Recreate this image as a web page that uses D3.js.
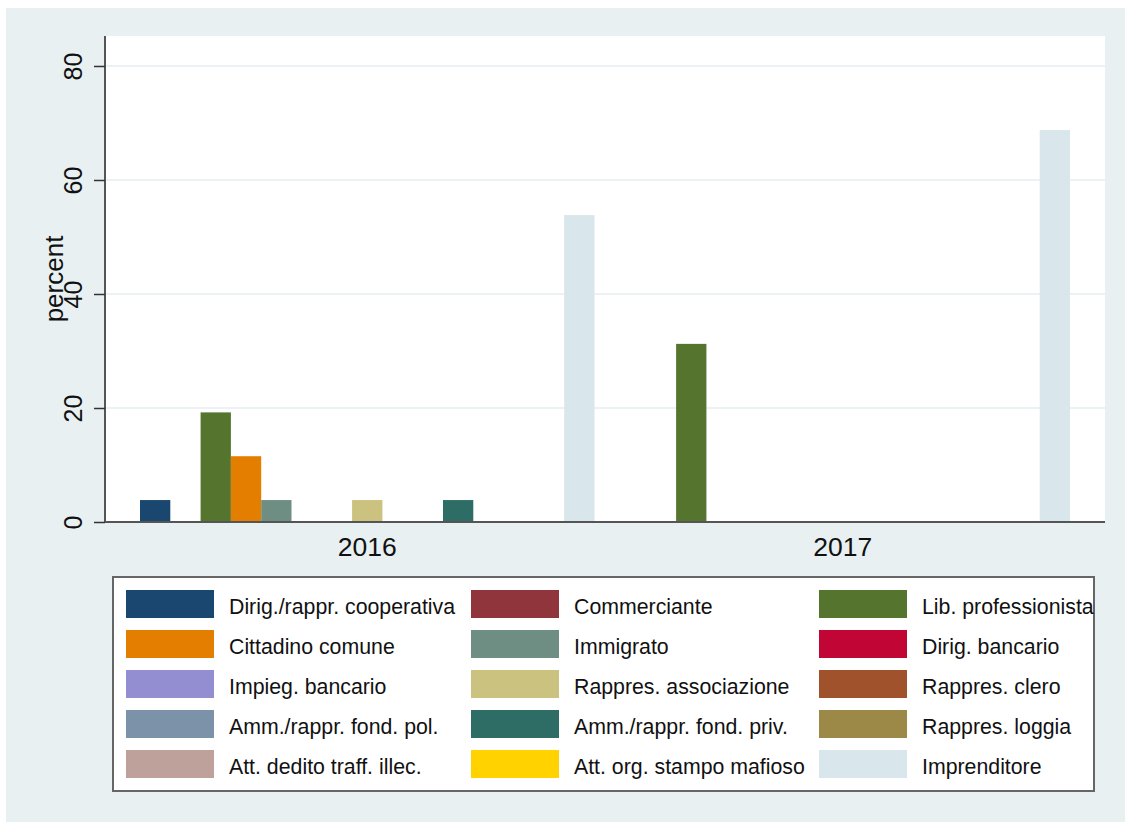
<!DOCTYPE html>
<html><head><meta charset="utf-8">
<script src="https://cdn.jsdelivr.net/npm/d3@7"></script>
<style>
html,body{margin:0;padding:0;background:#fff;}
text{font-family:"Liberation Sans",Arial,Helvetica,sans-serif;fill:#111;}
</style></head>
<body><svg id="c" width="1125" height="822"></svg>
<script>
const years = ["2016", "2017"];
const categories = [
  "Dirig./rappr. cooperativa", "Commerciante", "Lib. professionista",
  "Cittadino comune", "Immigrato", "Dirig. bancario",
  "Impieg. bancario", "Rappres. associazione", "Rappres. clero",
  "Amm./rappr. fond. pol.", "Amm./rappr. fond. priv.", "Rappres. loggia",
  "Att. dedito traff. illec.", "Att. org. stampo mafioso", "Imprenditore"
];
const colors = [
  "#1a476f", "#90353b", "#55752f",
  "#e37e00", "#6e8e84", "#c10534",
  "#938dd2", "#cac27e", "#a0522d",
  "#7b92a8", "#2d6d66", "#9c8847",
  "#bfa19c", "#ffd200", "#d9e6eb"
];
const values2016 = [3.85, 0, 19.23, 11.54, 3.85, 0, 0, 3.85, 0, 0, 3.85, 0, 0, 0, 53.85];
const values2017 = [0, 0, 31.25, 0, 0, 0, 0, 0, 0, 0, 0, 0, 0, 0, 68.75];
const yTicks = [0, 20, 40, 60, 80];

const series = {"2016": values2016, "2017": values2017};
const svg = d3.select("#c");

// outer background
svg.append("rect").attr("x", 6).attr("y", 8).attr("width", 1119).attr("height", 814).attr("fill", "#e8f0f2");

const L = 105, R = 1105, T = 36, B = 522;
svg.append("rect").attr("x", L).attr("y", T).attr("width", R - L).attr("height", B - T).attr("fill", "#ffffff");

const y = d3.scaleLinear().domain([0, 85.26]).range([B, T]);
const x0 = d3.scaleBand().domain(years).range([L, R]).paddingInner(0.0442).paddingOuter(0.0736);
const x1 = d3.scaleBand().domain(categories).range([0, x0.bandwidth()]).padding(0);

// gridlines
svg.append("g").selectAll("line").data(yTicks.filter(d => d > 0)).join("line")
  .attr("x1", L).attr("x2", R).attr("y1", d => y(d)).attr("y2", d => y(d))
  .attr("stroke", "#e6eef1").attr("stroke-width", 1.5);

// bars
years.forEach(yr => {
  const g = svg.append("g").attr("transform", `translate(${x0(yr)},0)`);
  g.selectAll("rect").data(series[yr].map((v, i) => ({v, i})).filter(d => d.v > 0)).join("rect")
    .attr("x", d => x1(categories[d.i]))
    .attr("width", x1.bandwidth())
    .attr("y", d => y(d.v))
    .attr("height", d => B - y(d.v))
    .attr("fill", d => colors[d.i]);
});

// y axis
const yAxis = d3.axisLeft(y).tickValues(yTicks).tickSize(11);
const ya = svg.append("g").attr("transform", `translate(${L},0)`).call(yAxis);
ya.select(".domain").attr("stroke", "#555").attr("stroke-width", 2).attr("d", `M0,${B}V${T}`);
ya.selectAll(".tick line").attr("stroke", "#333").attr("stroke-width", 1.5);
ya.selectAll(".tick text")
  .attr("font-size", 25).attr("fill", "#111")
  .attr("transform", "translate(-23,0) rotate(-90)")
  .attr("x", 0).attr("y", 0).attr("dy", "0")
  .attr("text-anchor", "middle");

// x axis
const xAxis = d3.axisBottom(x0).tickSize(0).tickPadding(34);
const xa = svg.append("g").attr("transform", `translate(0,${B})`).call(xAxis);
xa.select(".domain").attr("stroke", "#555").attr("stroke-width", 2).attr("d", `M${L},0H${R}`);
xa.selectAll(".tick text").attr("font-size", 26.5).attr("fill", "#111").attr("dy", "0");

// y title
svg.append("text").attr("transform", `translate(63,279) rotate(-90)`)
  .attr("text-anchor", "middle").attr("font-size", 26).text("percent");

// legend
const lg = svg.append("g");
lg.append("rect").attr("x", 113).attr("y", 577).attr("width", 981).attr("height", 214)
  .attr("fill", "#fff").attr("stroke", "#666").attr("stroke-width", 2);
const colX = [126, 471, 819], rowY = [590, 630, 670, 710, 750];
categories.forEach((c, i) => {
  const cx = colX[i % 3], ry = rowY[Math.floor(i / 3)];
  lg.append("rect").attr("x", cx).attr("y", ry).attr("width", 88).attr("height", 28).attr("fill", colors[i]);
  lg.append("text").attr("x", cx + 103).attr("y", ry + 16).attr("dy", "0.36em")
    .attr("font-size", 21.3).text(c);
});
</script></body></html>
